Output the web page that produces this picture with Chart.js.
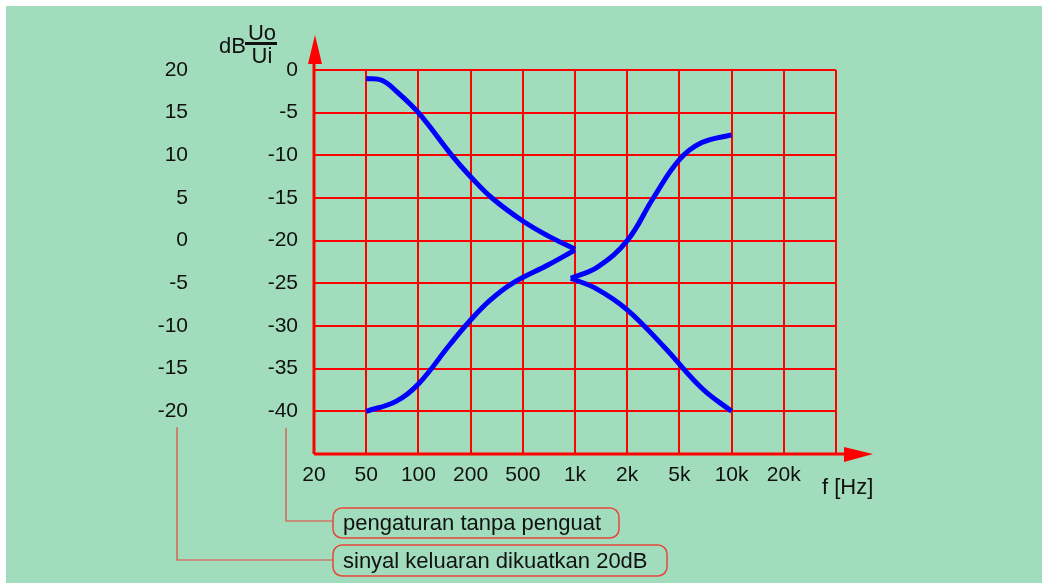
<!DOCTYPE html>
<html>
<head>
<meta charset="utf-8">
<script src="https://cdn.jsdelivr.net/npm/chart.js@4"></script>
<style>
  html, body { margin: 0; padding: 0; background: #ffffff; }
  #panel { position: absolute; left: 6px; top: 6px; width: 1036px; height: 577px; background: #a1dcbd; }
  #tone { position: absolute; left: 0; top: 0; }
</style>
</head>
<body>
<div id="panel"></div>
<canvas id="tone" width="1048" height="583"></canvas>
<script>
// frequency axis (one grid step per label)
const freqLabels = ["20", "50", "100", "200", "500", "1k", "2k", "5k", "10k", "20k", ""]
// gain without amplifier, and the same output raised by 20dB
const gainTicks = ["0", "-5", "-10", "-15", "-20", "-25", "-30", "-35", "-40"]
const boostedTicks = ["20", "15", "10", "5", "0", "-5", "-10", "-15", "-20"]

// curves: position on the frequency axis, level in dB
const bassBoostX = [1, 1.3, 1.58, 2, 2.64, 3, 3.41, 4, 4.5, 5]
const bassBoostDb = [-1, -1.2, -2.5, -5, -10, -12.5, -15, -17.7, -19.5, -21]
const bassCutX = [1, 1.58, 2, 2.6, 3, 3.37, 3.8, 4.5, 5]
const bassCutDb = [-40, -38.8, -36.8, -32.2, -29.3, -27, -25, -22.8, -21.1]
const trebleBoostX = [4.92, 5.43, 6, 6.5, 7, 7.43, 8]
const trebleBoostDb = [-24.4, -23.1, -20, -15, -10.5, -8.5, -7.6]
const trebleCutX = [4.92, 5.43, 6, 6.7, 7.43, 8]
const trebleCutDb = [-24.4, -25.7, -28.1, -32.4, -37.3, -40]

const FONT = "'Liberation Sans', Arial, sans-serif"
const RED = "#ff0000"

function toPoints(xs, ys) {
  return xs.map((x, i) => ({ x: x, y: ys[i] }))
}

function curve(xs, ys) {
  return {
    data: toPoints(xs, ys),
    borderColor: "#0000ff",
    borderWidth: 5,
    borderCapStyle: "butt",
    pointRadius: 0,
    fill: false,
    tension: 0.4,
  }
}

// axes with arrows, unit title, legend boxes
const decorations = {
  id: "decorations",
  afterDraw(chart) {
    const ctx = chart.ctx
    const area = chart.chartArea
    const yScale = chart.scales.y
    const y2Scale = chart.scales.y2
    ctx.save()

    // axis lines
    ctx.strokeStyle = RED
    ctx.fillStyle = RED
    ctx.lineWidth = 3
    ctx.beginPath()
    ctx.moveTo(area.left, area.bottom)
    ctx.lineTo(area.left, area.top - 7)
    ctx.moveTo(area.left, area.bottom)
    ctx.lineTo(area.right + 9, area.bottom)
    ctx.stroke()

    // arrow heads
    ctx.beginPath()
    ctx.moveTo(area.left + 1, area.top - 35)
    ctx.lineTo(area.left - 6, area.top - 6)
    ctx.lineTo(area.left + 8, area.top - 6)
    ctx.closePath()
    ctx.fill()
    ctx.beginPath()
    ctx.moveTo(area.right + 37, area.bottom)
    ctx.lineTo(area.right + 8, area.bottom - 7)
    ctx.lineTo(area.right + 8, area.bottom + 8)
    ctx.closePath()
    ctx.fill()

    // dB Uo/Ui
    ctx.fillStyle = "#111111"
    ctx.font = "22px " + FONT
    ctx.textAlign = "right"
    ctx.textBaseline = "alphabetic"
    ctx.fillText("dB", 246, 53)
    ctx.textAlign = "center"
    ctx.fillText("Uo", 262, 40)
    ctx.fillText("Ui", 262, 63)
    ctx.fillRect(245, 42, 32, 3)

    // frequency unit
    ctx.textAlign = "left"
    ctx.font = "22px " + FONT
    ctx.fillText("f [Hz]", 822, 494)

    // connectors from the tick columns to the boxes
    const lowY = yScale.getPixelForValue(-40)
    const innerX = yScale.right - 28
    const outerX = y2Scale.right - 27
    ctx.strokeStyle = "#e8463c"
    ctx.lineWidth = 1.2
    ctx.beginPath()
    ctx.moveTo(outerX, lowY + 16)
    ctx.lineTo(outerX, 560)
    ctx.lineTo(333, 560)
    ctx.moveTo(innerX, lowY + 17)
    ctx.lineTo(innerX, 521)
    ctx.lineTo(333, 521)
    ctx.stroke()

    const boxes = [
      { text: "pengaturan tanpa penguat", x: 333, y: 508, w: 286, h: 30 },
      { text: "sinyal keluaran dikuatkan 20dB", x: 333, y: 545, w: 334, h: 31 },
    ]
    ctx.strokeStyle = "#e8463c"
    ctx.lineWidth = 1.5
    ctx.font = "22px " + FONT
    ctx.textBaseline = "middle"
    boxes.forEach((b) => {
      ctx.beginPath()
      ctx.roundRect(b.x, b.y, b.w, b.h, 9)
      ctx.fillStyle = "#a1dcbd"
      ctx.fill()
      ctx.stroke()
      ctx.fillStyle = "#111111"
      ctx.fillText(b.text, b.x + 10, b.y + b.h / 2 + 1)
    })

    ctx.restore()
  },
}

new Chart(document.getElementById("tone"), {
  type: "line",
  data: {
    datasets: [
      curve(bassBoostX, bassBoostDb),
      curve(bassCutX, bassCutDb),
      curve(trebleBoostX, trebleBoostDb),
      curve(trebleCutX, trebleCutDb),
    ],
  },
  options: {
    responsive: false,
    devicePixelRatio: 1,
    animation: false,
    layout: { padding: { left: 10, top: 70, right: 212, bottom: 89 } },
    plugins: { legend: { display: false }, tooltip: { enabled: false } },
    scales: {
      x: {
        type: "linear",
        min: 0,
        max: 10,
        afterFit: (scale) => { scale.height = 40 },
        grid: { color: RED, lineWidth: 2, drawTicks: false },
        border: { display: false },
        ticks: {
          stepSize: 1,
          autoSkip: false,
          maxRotation: 0,
          padding: 9,
          color: "#111111",
          font: { family: FONT, size: 21 },
          callback: (v) => freqLabels[v],
        },
      },
      y: {
        type: "linear",
        position: "left",
        weight: 0,
        min: -45,
        max: 0,
        afterFit: (scale) => { scale.width = 110 },
        grid: { color: RED, lineWidth: 2, drawTicks: false },
        border: { display: false },
        ticks: {
          stepSize: 5,
          padding: 16,
          color: "#111111",
          font: { family: FONT, size: 21 },
          callback: (v) => gainTicks[-v / 5],
        },
      },
      y2: {
        type: "linear",
        position: "left",
        weight: 1,
        min: -25,
        max: 20,
        afterFit: (scale) => { scale.width = 194 },
        grid: { display: false, drawTicks: false },
        border: { display: false },
        ticks: {
          stepSize: 5,
          padding: 16,
          color: "#111111",
          font: { family: FONT, size: 21 },
          callback: (v) => boostedTicks[(20 - v) / 5],
        },
      },
    },
  },
  plugins: [decorations],
})
</script>
</body>
</html>
